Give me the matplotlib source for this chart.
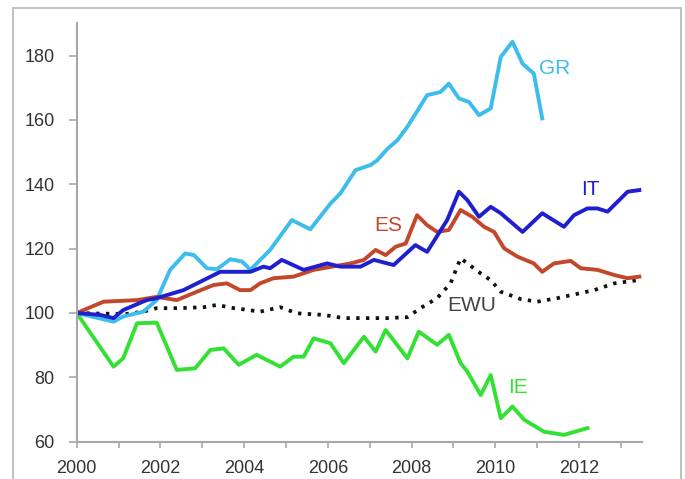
import matplotlib.pyplot as plt
from matplotlib.patches import Rectangle

plt.rcParams['font.family'] = ['Liberation Sans', 'DejaVu Sans']

gr_x = [2000.0, 2000.88, 2001.11, 2001.59, 2001.91, 2002.23, 2002.59, 2002.8, 2003.11, 2003.35,
        2003.67, 2003.95, 2004.15, 2004.62, 2005.14, 2005.58, 2006.06, 2006.3, 2006.66, 2007.02,
        2007.18, 2007.42, 2007.66, 2007.9, 2008.37, 2008.69, 2008.89, 2009.13, 2009.37, 2009.61,
        2009.89, 2010.13, 2010.41, 2010.65, 2010.92, 2011.12]
gr_y = [100, 97.3, 98.9, 100.4, 104, 113.4, 118.5, 118, 113.9, 113.6,
        116.7, 116, 113.4, 119.6, 128.9, 126, 134, 137.2, 144.4, 146,
        147.5, 151, 153.7, 157.9, 167.7, 168.7, 171.3, 166.7, 165.6, 161.5,
        163.6, 179.6, 184.3, 177.5, 174.4, 160.5]

it_x = [2000.0, 2000.56, 2000.88, 2001.11, 2001.67, 2001.91, 2002.55, 2003.03, 2003.43, 2004.15,
        2004.46, 2004.62, 2004.9, 2005.42, 2005.98, 2006.3, 2006.78, 2007.1, 2007.57, 2008.09,
        2008.37, 2008.85, 2009.13, 2009.33, 2009.61, 2009.89, 2010.13, 2010.65, 2011.12, 2011.64,
        2011.88, 2012.2, 2012.44, 2012.68, 2012.96, 2013.16, 2013.44]
it_y = [100, 99.4, 98.4, 100.9, 104, 104.6, 107.1, 110.2, 112.8, 112.8,
        114.4, 113.9, 116.5, 113.4, 115.4, 114.4, 114.4, 116.5, 114.9, 121.1,
        119, 128.9, 137.7, 135.1, 129.9, 133, 131, 125.2, 131, 126.8,
        130.4, 132.5, 132.5, 131.5, 135.1, 137.7, 138.2]

es_x = [2000.0, 2000.64, 2001.44, 2001.91, 2002.39, 2002.87, 2003.27, 2003.59, 2003.9, 2004.15,
        2004.38, 2004.7, 2005.18, 2005.66, 2006.54, 2006.86, 2007.14, 2007.38, 2007.62, 2007.86,
        2008.13, 2008.37, 2008.61, 2008.89, 2009.17, 2009.45, 2009.73, 2009.97, 2010.21, 2010.53,
        2010.92, 2011.12, 2011.4, 2011.8, 2012.04, 2012.44, 2012.84, 2013.16, 2013.44]
es_y = [100, 103.5, 104, 105, 104, 106.6, 108.7, 109.2, 107.1, 107.1,
        109.2, 110.8, 111.3, 113.4, 115.4, 116.5, 119.6, 118, 120.6, 121.6,
        130.4, 127.3, 125.2, 125.8, 132, 129.9, 126.8, 125.2, 120.1, 117.5,
        115.4, 112.8, 115.4, 116.2, 113.9, 113.4, 111.8, 110.8, 111.3]

ewu_x = [2000.0, 2000.6, 2001.2, 2001.59, 2001.91, 2002.47, 2003.03, 2003.35, 2003.75, 2004.0,
         2004.38, 2004.86, 2005.26, 2005.9, 2006.38, 2007.42, 2007.9, 2008.21, 2008.61, 2008.93,
         2009.17, 2009.65, 2009.89, 2010.13, 2010.61, 2011.0, 2011.48, 2012.36, 2012.84, 2013.4]
ewu_y = [100, 99.8, 99.7, 100.4, 101.5, 101.5, 101.8, 102.5, 101.5, 101.1,
         100.4, 101.8, 99.9, 99.4, 98.4, 98.4, 98.7, 101.5, 104.6, 109.2,
         117, 112.3, 110.2, 106.6, 104.3, 103.5, 104.6, 107.1, 109.2, 110.2]

ie_x = [2000.0, 2000.88, 2001.11, 2001.44, 2001.91, 2002.39, 2002.83, 2003.19, 2003.51, 2003.87,
        2004.3, 2004.86, 2005.18, 2005.42, 2005.66, 2006.06, 2006.38, 2006.86, 2007.14, 2007.38,
        2007.9, 2008.17, 2008.61, 2008.89, 2009.17, 2009.33, 2009.65, 2009.89, 2010.13, 2010.41,
        2010.69, 2011.16, 2011.64, 2012.2]
ie_y = [100, 83.3, 85.9, 96.8, 97, 82.3, 82.8, 88.5, 89, 83.9,
        87, 83.3, 86.4, 86.4, 92.1, 90.6, 84.4, 92.6, 88, 94.7,
        85.9, 94.2, 90.1, 93.2, 84.4, 81.8, 74.5, 80.7, 67.3, 70.9,
        66.8, 63.1, 62.1, 64.2]

fig = plt.figure(figsize=(6.85, 4.79), dpi=100)
ax = fig.add_axes([0.112, 0.078, 0.825, 0.873])

ax.plot(ie_x, ie_y, color='#33E033', lw=2.8, solid_joinstyle='round')
ax.plot(ewu_x, ewu_y, color='#111111', lw=2.7, linestyle=(0, (0.9, 1.7)))
ax.plot(gr_x, gr_y, color='#3DBDEB', lw=2.8, solid_joinstyle='round')
ax.plot(es_x, es_y, color='#C3472B', lw=2.8, solid_joinstyle='round')
ax.plot(it_x, it_y, color='#1F1FCF', lw=2.8, solid_joinstyle='round')

lab = dict(fontsize=15, va='center')
ax.text(2011.05, 176, 'GR', color='#3DBDEB', **lab)
ax.text(2012.05, 138.3, 'IT', color='#1F1FCF', **lab)
ax.text(2007.1, 127.3, 'ES', color='#C3472B', **lab)
ax.text(2008.85, 102.2, 'EWU', color='#444444', **lab)
ax.text(2010.3, 76.7, 'IE', color='#33E033', **lab)

ax.set_xlim(2000, 2013.5)
ax.set_ylim(60, 190)
ax.set_yticks(range(60, 181, 20))
ax.set_xticks(range(2000, 2014))
ax.set_xticklabels([str(y) if y % 2 == 0 else '' for y in range(2000, 2014)])

for s in ['top', 'right']:
    ax.spines[s].set_visible(False)
for s in ['left', 'bottom']:
    ax.spines[s].set_color('#A8A8A8')
    ax.spines[s].set_linewidth(1.5)
ax.tick_params(axis='both', colors='#A8A8A8', labelcolor='#333333', labelsize=13,
               width=1.2, direction='out')
ax.tick_params(axis='y', length=6, pad=10)
ax.tick_params(axis='x', length=4, pad=9)

# grauer Rahmen um die Grafik
fig.patches.append(Rectangle((13 / 685, -0.05), (681 - 13) / 685, 1.05 - 8 / 479,
                             transform=fig.transFigure, fill=False,
                             edgecolor='#BBBBBB', linewidth=1.3))

fig.savefig('out.png', dpi=100)
